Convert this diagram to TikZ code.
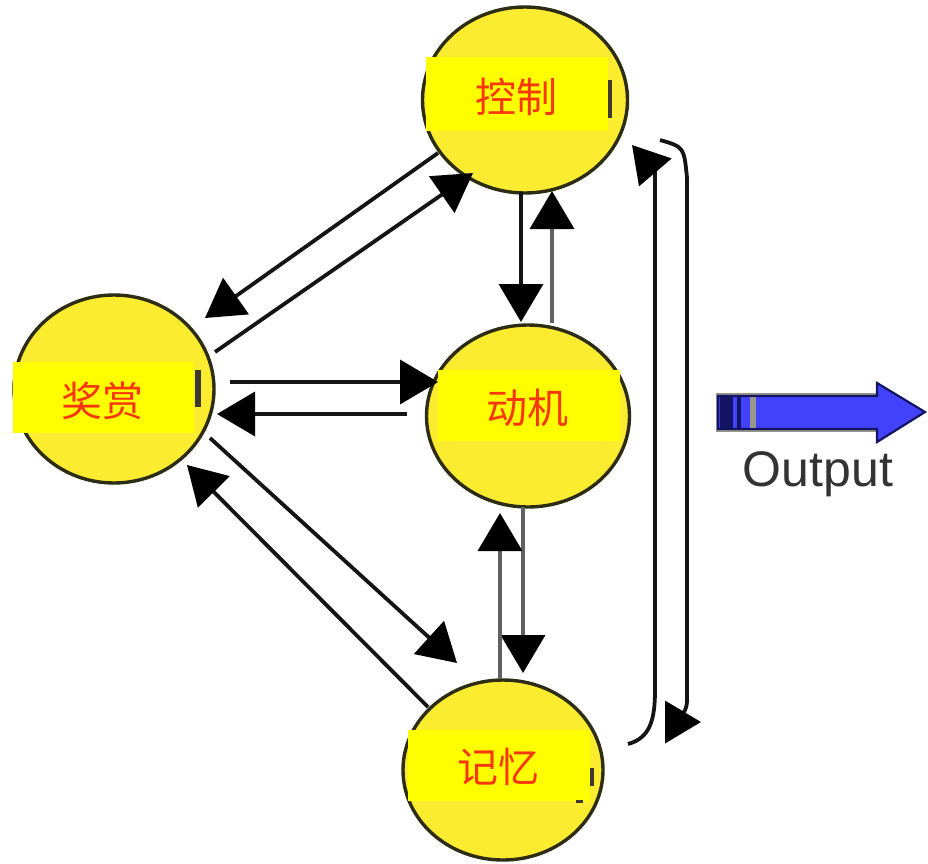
\documentclass[tikz,border=0pt]{standalone}
\usepackage{fontspec}
\setmainfont{Liberation Sans}
\newfontfamily\cjk{Noto Sans CJK SC}
\usetikzlibrary{arrows.meta,shapes.geometric}
\definecolor{circfill}{RGB}{252,236,48}
\definecolor{circline}{RGB}{45,45,20}
\definecolor{boxyellow}{RGB}{255,255,0}
\definecolor{txtred}{RGB}{250,55,10}
\definecolor{arrblue}{RGB}{66,66,250}
\definecolor{navyband}{RGB}{20,20,100}
\definecolor{bargray}{RGB}{150,150,140}
\begin{document}
\begin{tikzpicture}[x=1pt,y=-1pt,
  circ/.style={ellipse, draw=circline, line width=3.4pt, fill=circfill, inner sep=0pt},
  lblbox/.style={rectangle, fill=boxyellow, inner sep=0pt},
  lbltext/.style={text=txtred, font=\cjk\fontsize{41}{41}\selectfont, inner sep=0pt},
  darkbar/.style={fill=black!75!olive},
  conn/.style={line width=3.8pt, draw=black!92, -{Triangle[length=38pt,width=44pt,color=black]}},
  conng/.style={conn, draw=black!62},
  brk/.style={line width=3.8pt, draw=black!92, -{Triangle[length=36pt,width=42pt,color=black]}}]
\useasboundingbox (0,0) rectangle (928,863);
% circles
\node[circ, minimum width=205pt, minimum height=186pt] (ctrl) at (525,100) {};
\node[circ, minimum width=200pt, minimum height=188pt] (reward) at (114,389) {};
\node[circ, minimum width=203pt, minimum height=182pt] (motive) at (528,416) {};
\node[circ, minimum width=200pt, minimum height=180pt] (memory) at (503,770) {};
% label boxes
\node[lblbox, minimum width=182pt, minimum height=74pt] (ctrlbox) at (517,94) {};
\node[lblbox, minimum width=181pt, minimum height=71pt] (rewardbox) at (103.5,397.5) {};
\node[lblbox, minimum width=182pt, minimum height=71pt] (motivebox) at (529,405.5) {};
\node[lblbox, minimum width=182pt, minimum height=71pt] (memorybox) at (499,765.5) {};
\fill[darkbar] (608,80) rectangle (612,118);
\fill[darkbar] (195,370) rectangle (201,407);
\fill[darkbar] (590,768) rectangle (594,786);
\fill[darkbar] (576,800) rectangle (583,802.5);
% label texts
\node[lbltext] (ctrltext) at (516,97) {控制};
\node[lbltext] (rewardtext) at (102,401) {奖赏};
\node[lbltext] (motivetext) at (527,408) {动机};
\node[lbltext] (memorytext) at (498,767) {记忆};
% connector end points
\coordinate (c1s) at (438,153); \coordinate (c1e) at (205,318);
\coordinate (c2s) at (215,352); \coordinate (c2e) at (473,173);
\coordinate (c3s) at (230,382); \coordinate (c3e) at (438,382);
\coordinate (c4s) at (407,414); \coordinate (c4e) at (217,414);
\coordinate (c5s) at (210,438); \coordinate (c5e) at (457,663);
\coordinate (c6s) at (428,707); \coordinate (c6e) at (187,465);
\coordinate (c7s) at (521,192); \coordinate (c7e) at (521,322);
\coordinate (c8s) at (552,323); \coordinate (c8e) at (552,191);
\coordinate (c9s) at (523,507); \coordinate (c9e) at (523,673);
\coordinate (c10s) at (500,679); \coordinate (c10e) at (500,513);
\draw[conn] (c1s) -- (c1e);
\draw[conn] (c2s) -- (c2e);
\draw[conn] (c3s) -- (c3e);
\draw[conn] (c4s) -- (c4e);
\draw[conn] (c5s) -- (c5e);
\draw[conn] (c6s) -- (c6e);
\draw[conn] (c7s) -- (c7e);
\draw[conng] (c8s) -- (c8e);
\draw[conng] (c9s) -- (c9e);
\draw[conng] (c10s) -- (c10e);
% right-hand loop arrows
\coordinate (b1s) at (628,744); \coordinate (b1e) at (632,145);
\coordinate (b2s) at (660,140); \coordinate (b2e) at (701,722);
\draw[brk] (b1s) .. controls (650,738) and (655,720) .. (655,690) -- (655,192) .. controls (655,172) .. (b1e);
\draw[brk] (b2s) .. controls (684,147) .. (687,178) -- (687,700) .. controls (687,718) and (672,722) .. (b2e);
% output arrow
\draw[bargray, line width=1.5pt] (717,394) rectangle (877,431);
\filldraw[fill=arrblue, draw=navyband, line width=2.2pt]
  (718,396) -- (877,396) -- (877,383) -- (925,412) -- (877,442) -- (877,429) -- (718,429) -- cycle;
\fill[navyband] (720,397) rectangle (733,428);
\fill[navyband] (737,397) rectangle (741,428);
\fill[bargray] (750,397) rectangle (756,428);
\node[text=black!80, font=\fontsize{50}{50}\selectfont, inner sep=0pt, anchor=base] (outtext) at (818,486) {Output};
\end{tikzpicture}
\end{document}
